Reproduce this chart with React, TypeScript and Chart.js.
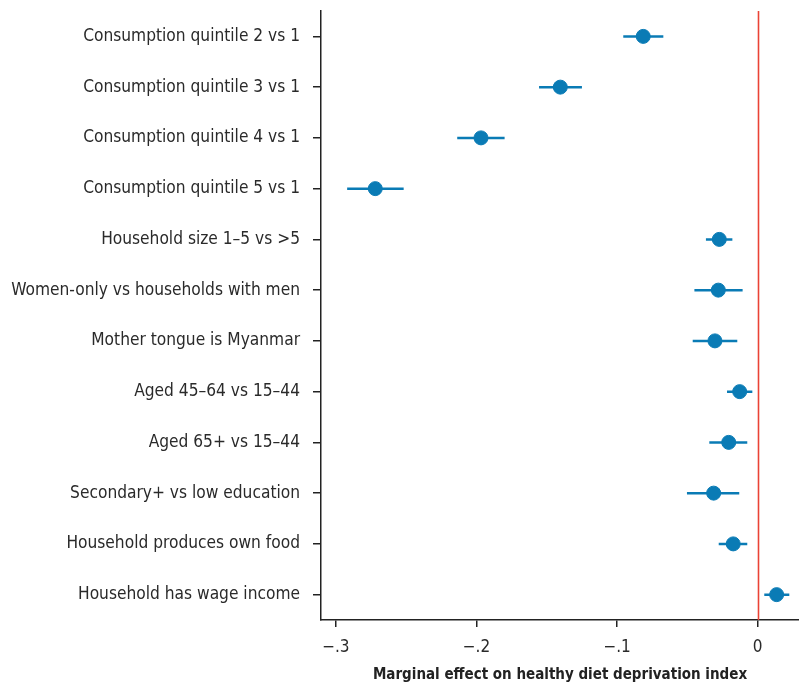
import React, { useEffect, useRef } from "react";
import { Chart, registerables } from "chart.js";

Chart.register(...registerables);

const categories = [
  "Consumption quintile 2 vs 1",
  "Consumption quintile 3 vs 1",
  "Consumption quintile 4 vs 1",
  "Consumption quintile 5 vs 1",
  "Household size 1\u20135 vs >5",
  "Women-only vs households with men",
  "Mother tongue is Myanmar",
  "Aged 45\u201364 vs 15\u201344",
  "Aged 65+ vs 15\u201344",
  "Secondary+ vs low education",
  "Household produces own food",
  "Household has wage income",
];

const estimates = [-0.0814, -0.1404, -0.1968, -0.272, -0.0273, -0.028, -0.0304, -0.0128, -0.0206, -0.0313, -0.0174, 0.0135];
const lower = [-0.0956, -0.1555, -0.2137, -0.292, -0.0368, -0.045, -0.0462, -0.0218, -0.0344, -0.0503, -0.0277, 0.0047];
const upper = [-0.0671, -0.125, -0.18, -0.2518, -0.018, -0.0107, -0.0145, -0.0038, -0.0074, -0.0131, -0.0074, 0.0225];

const xTicks = [-0.3, -0.2, -0.1, 0];
const xTickLabels = ["\u2212.3", "\u2212.2", "\u2212.1", "0"];
const xTitle = "Marginal effect on healthy diet deprivation index";

const BLUE = "#0a7bb5";
const FONT = "'DejaVu Sans Condensed', 'Liberation Sans', sans-serif";

const zeroLine = {
  id: "zeroLine",
  beforeDatasetsDraw(chart: any) {
    const { ctx, chartArea, scales } = chart;
    const x = Math.round(scales.x.getPixelForValue(0)) + 0.5;
    ctx.save();
    ctx.strokeStyle = "#ea4335";
    ctx.lineWidth = 1.6;
    ctx.beginPath();
    ctx.moveTo(x, chartArea.top);
    ctx.lineTo(x, chartArea.bottom);
    ctx.stroke();
    ctx.restore();
  },
};

function zeroPad(scale: any) {
  scale.paddingTop = 0;
  scale.paddingBottom = 0;
  scale.paddingLeft = 0;
  scale.paddingRight = 0;
}

export default function App() {
  const ref = useRef<HTMLCanvasElement>(null);
  useEffect(() => {
    document.body.style.margin = "0";
    const ciSets = categories.map((c, i) => ({
      type: "line" as const,
      data: [
        { x: lower[i], y: c },
        { x: upper[i], y: c },
      ],
      borderColor: BLUE,
      borderWidth: 2.5,
      pointRadius: 0,
      showLine: true,
    }));
    const chart = new Chart(ref.current!, {
      type: "scatter",
      data: {
        datasets: [
          {
            type: "scatter",
            data: categories.map((c, i) => ({ x: estimates[i], y: c })),
            backgroundColor: BLUE,
            borderColor: BLUE,
            pointRadius: 7,
            pointHoverRadius: 7,
          } as any,
          ...ciSets,
        ],
      },
      options: {
        animation: false,
        responsive: false,
        layout: { autoPadding: false, padding: { top: 11, right: 0, left: 0, bottom: 0 } },
        plugins: { legend: { display: false }, tooltip: { enabled: false } },
        scales: {
          x: {
            type: "linear",
            min: -0.3106,
            max: 0.0294,
            afterFit(scale: any) {
              scale.height = 64;
              zeroPad(scale);
            },
            afterBuildTicks(scale: any) {
              scale.ticks = xTicks.map((v) => ({ value: v }));
            },
            ticks: {
              color: "#2a2a2a",
              font: { family: FONT, size: 17 },
              padding: 10,
              callback: (v: any) => {
                const i = xTicks.findIndex((t) => Math.abs(t - v) < 1e-9);
                return i >= 0 ? xTickLabels[i] : "";
              },
            },
            grid: { drawOnChartArea: false, drawTicks: true, tickLength: 7, color: "#222", lineWidth: 1.5 },
            border: { display: true, color: "#222", width: 1.5 },
            title: {
              display: true,
              text: xTitle,
              color: "#222",
              font: { family: FONT, size: 15, weight: "bold" },
              padding: { top: 0, bottom: 0 },
            },
          },
          y: {
            type: "category",
            labels: categories,
            offset: true,
            afterFit(scale: any) {
              scale.width = 321;
              zeroPad(scale);
            },
            ticks: {
              color: "#2a2a2a",
              font: { family: FONT, size: 17.2 },
              padding: 13,
            },
            grid: { drawOnChartArea: false, drawTicks: true, tickLength: 8, color: "#222", lineWidth: 1.5 },
            border: { display: true, color: "#222", width: 1.5 },
          },
        },
      },
      plugins: [zeroLine],
    } as any);
    return () => chart.destroy();
  }, []);
  return <canvas ref={ref} width={799} height={684} style={{ display: "block" }} />;
}
